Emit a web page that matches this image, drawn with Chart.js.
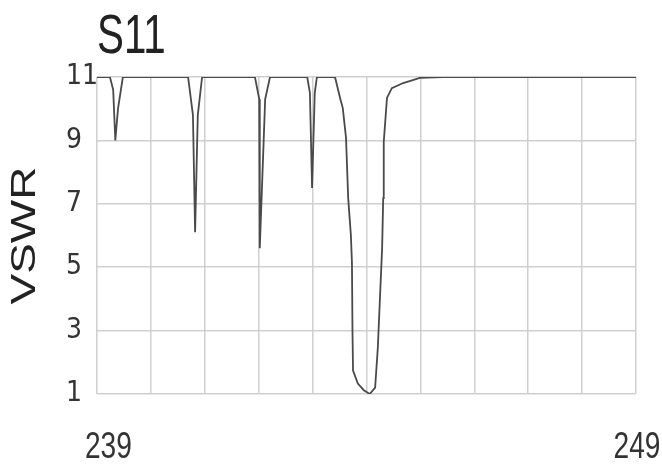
<!DOCTYPE html>
<html>
<head>
<meta charset="utf-8">
<title>S11 VSWR</title>
<script src="https://cdn.jsdelivr.net/npm/chart.js@4/dist/chart.umd.min.js"></script>
<style>
  html, body { margin: 0; padding: 0; background: #fff; }
  #chart { display: block; }
</style>
</head>
<body>
<canvas id="chart" width="662" height="468"></canvas>
<script>
// Sweep (frequency, VSWR); flat stretches sit at the 11 ceiling
const freq = [
  239.00, 239.24, 239.30, 239.34, 239.39, 239.48,
  240.69, 240.78, 240.82, 240.87, 240.95,
  241.93, 242.01, 242.02, 242.12, 242.21,
  242.90, 242.95, 242.99, 243.04, 243.08,
  243.38, 243.42, 243.51, 243.56, 243.62, 243.66, 243.71, 243.73, 243.74, 243.75,
  243.84, 243.95, 244.06, 244.16, 244.21, 244.25, 244.29, 244.31, 244.32, 244.38,
  244.47, 244.68, 244.99, 245.42, 249.00
];
const vswr = [
  11.0, 11.0, 10.6, 9.0, 10.0, 11.0,
  11.0, 9.8, 6.1, 9.8, 11.0,
  11.0, 10.3, 5.6, 10.3, 11.0,
  11.0, 10.5, 7.5, 10.5, 11.0,
  11.0, 10.97, 10.34, 10.02, 9.08, 7.18, 6.02, 5.13, 3.0, 1.74,
  1.33, 1.12, 1.0, 1.2, 2.46, 4.04, 5.61, 7.18, 8.95, 10.34,
  10.65, 10.81, 10.97, 11.0, 11.0
];
const xTickLabels = [239, 249];
const yTicks = [1, 3, 5, 7, 9, 11];
const chartTitle = 'S11';
const yTitle = 'VSWR';

const NARROW = "'Liberation Sans Narrow', 'DejaVu Sans Condensed', 'Liberation Sans', sans-serif";
const SANS = "'Liberation Sans', Arial, sans-serif";

// title, axis name and the two end labels, drawn squeezed like the source image
const textPlugin = {
  id: 'texts',
  afterDraw(chart) {
    const { ctx, chartArea } = chart;
    const xScale = chart.scales.x;

    ctx.save();
    ctx.fillStyle = '#222';
    ctx.textBaseline = 'alphabetic';
    ctx.textAlign = 'left';
    ctx.font = '56px ' + SANS;
    ctx.translate(chartArea.left, 53);
    ctx.scale(0.72, 1);
    ctx.fillText(chartTitle, 0, 0);
    ctx.restore();

    ctx.save();
    ctx.fillStyle = '#222';
    ctx.textAlign = 'center';
    ctx.textBaseline = 'middle';
    ctx.font = '46px ' + SANS;
    ctx.translate(25, (chartArea.top + chartArea.bottom) / 2);
    ctx.rotate(-Math.PI / 2);
    ctx.scale(1, 0.78);
    ctx.fillText(yTitle, 0, 0);
    ctx.restore();

    xTickLabels.forEach((v, i) => {
      const px = xScale.getPixelForValue(v);
      ctx.save();
      ctx.fillStyle = '#333';
      ctx.font = '36px ' + SANS;
      ctx.textBaseline = 'alphabetic';
      ctx.textAlign = i === 0 ? 'left' : 'center';
      ctx.translate(i === 0 ? px - 12 : px + 1, chartArea.bottom + 64);
      ctx.scale(0.78, 1);
      ctx.fillText(String(v), 0, 0);
      ctx.restore();
    });
  }
};

new Chart(document.getElementById('chart'), {
  type: 'line',
  data: {
    datasets: [{
      data: freq.map((f, i) => ({ x: f, y: vswr[i] })),
      borderColor: '#4a4a4a',
      borderWidth: 1.8,
      pointRadius: 0,
      fill: false,
      tension: 0,
    }],
  },
  options: {
    responsive: false,
    animation: false,
    layout: { padding: { left: 66, top: 77, right: 26, bottom: 74 } },
    plugins: {
      legend: { display: false },
      tooltip: { enabled: false },
    },
    scales: {
      x: {
        type: 'linear',
        min: 239,
        max: 249,
        border: { display: false },
        grid: { color: '#cfcfcf', lineWidth: 1.5, drawTicks: false },
        ticks: { stepSize: 1, display: false },
      },
      y: {
        min: 1,
        max: 11,
        border: { display: false },
        grid: { color: '#cfcfcf', lineWidth: 1.5, drawTicks: false },
        afterBuildTicks: (scale) => { scale.ticks = yTicks.map(v => ({ value: v })); },
        afterFit: (scale) => { scale.width = 31; },
        ticks: {
          padding: 6,
          crossAlign: 'far',
          color: '#333',
          font: { family: NARROW, size: 28 },
        },
      },
    },
  },
  plugins: [textPlugin],
});
</script>
</body>
</html>
